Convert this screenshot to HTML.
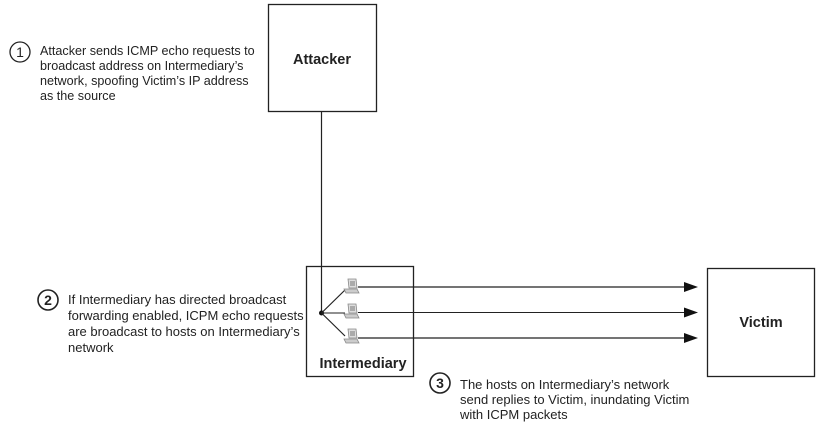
<!DOCTYPE html>
<html><head><style>
html,body{margin:0;padding:0;background:#fff;}
svg{display:block;}
text{font-family:"Liberation Sans",Arial,sans-serif;fill:#222;}
.t{font-size:13px;}
.t1{font-size:12.6px;}
.b{font-size:14.5px;font-weight:bold;}
</style></head><body>
<svg width="818" height="425" viewBox="0 0 818 425" xmlns="http://www.w3.org/2000/svg">
<defs>
<g id="pc">
<path d="M4 0 L12 0 L13 9 L5 9 Z" fill="#ddd" stroke="#888" stroke-width="0.8"/>
<rect x="6" y="2" width="5" height="5" fill="#aaa"/>
<path d="M0 10 L13 10 L15 14 L2 14 Z" fill="#ccc" stroke="#888" stroke-width="0.8"/>
</g>
</defs>
<rect x="268.5" y="4.5" width="108" height="107" fill="none" stroke="#222" stroke-width="1.3"/>
<text class="b" x="322" y="64" text-anchor="middle">Attacker</text>
<line x1="321.5" y1="112" x2="321.5" y2="313" stroke="#222" stroke-width="1.2"/>
<rect x="306.5" y="266.5" width="107" height="110" fill="none" stroke="#222" stroke-width="1.3"/>
<text class="b" x="363" y="368" text-anchor="middle">Intermediary</text>
<circle cx="321.5" cy="313" r="2.5" fill="#111"/>
<line x1="321.5" y1="313" x2="345" y2="290" stroke="#222" stroke-width="1.2"/>
<line x1="321.5" y1="313" x2="345" y2="313" stroke="#222" stroke-width="1"/>
<line x1="321.5" y1="313" x2="345" y2="336" stroke="#222" stroke-width="1.2"/>
<use href="#pc" x="344" y="279"/>
<use href="#pc" x="344" y="304"/>
<use href="#pc" x="344" y="329"/>
<line x1="358" y1="287" x2="685" y2="287" stroke="#222" stroke-width="1.3"/>
<line x1="358" y1="312.5" x2="685" y2="312.5" stroke="#222" stroke-width="1"/>
<line x1="358" y1="338" x2="685" y2="338" stroke="#222" stroke-width="1.3"/>
<path d="M684 282 L698 287 L684 292 Z" fill="#111"/>
<path d="M684 307.5 L698 312.5 L684 317.5 Z" fill="#111"/>
<path d="M684 333 L698 338 L684 343 Z" fill="#111"/>
<rect x="707.5" y="268.5" width="107" height="108" fill="none" stroke="#222" stroke-width="1.3"/>
<text class="b" x="761" y="327" text-anchor="middle">Victim</text>

<circle cx="20" cy="52" r="10" fill="none" stroke="#222" stroke-width="1.3"/>
<text x="20" y="57" text-anchor="middle" style="font-size:14px">1</text>
<text class="t1" x="40" y="55">Attacker sends ICMP echo requests to</text>
<text class="t1" x="40" y="70">broadcast address on Intermediary’s</text>
<text class="t1" x="40" y="85">network, spoofing Victim’s IP address</text>
<text class="t1" x="40" y="100">as the source</text>

<circle cx="48" cy="300" r="10" fill="none" stroke="#222" stroke-width="1.6"/>
<text x="48" y="305" text-anchor="middle" style="font-size:14px;font-weight:bold">2</text>
<text class="t" x="68" y="304">If Intermediary has directed broadcast</text>
<text class="t" x="68" y="320">forwarding enabled, ICPM echo requests</text>
<text class="t" x="68" y="336">are broadcast to hosts on Intermediary’s</text>
<text class="t" x="68" y="352">network</text>

<circle cx="440" cy="383" r="10" fill="none" stroke="#222" stroke-width="1.6"/>
<text x="440" y="388" text-anchor="middle" style="font-size:14px;font-weight:bold">3</text>
<text class="t" x="460" y="389">The hosts on Intermediary’s network</text>
<text class="t" x="460" y="404">send replies to Victim, inundating Victim</text>
<text class="t" x="460" y="419">with ICPM packets</text>
</svg>
</body></html>
